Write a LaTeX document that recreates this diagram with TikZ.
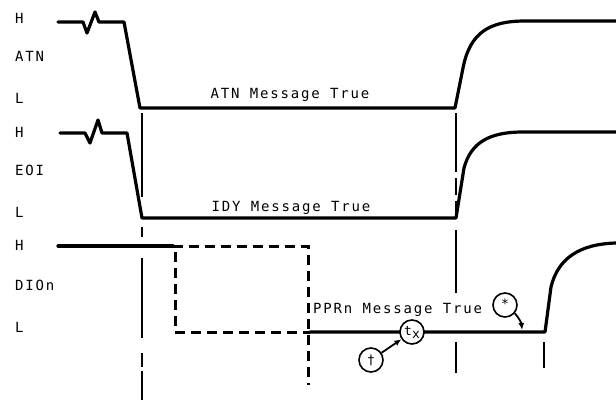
\documentclass[tikz,border=0pt]{standalone}
\usepackage{fontspec}
\newfontfamily\sigfont[LetterSpace=13]{DejaVu Sans Mono}
\usetikzlibrary{arrows.meta}
\tikzset{
  siglabel/.style={anchor=base west, inner sep=0pt, font=\sigfont\fontsize{14}{14}\selectfont},
  msglabel/.style={anchor=base, inner sep=0pt, font=\sigfont\fontsize{14}{14}\selectfont},
  wave/.style={line width=3.2pt, line join=round, line cap=round},
  dashwave/.style={line width=3pt, dash pattern=on 10pt off 6pt},
  marker/.style={line width=1.8pt},
  tagnode/.style={circle, draw, line width=1.6pt, fill=white, minimum size=24pt,
                  inner sep=0pt, font=\sigfont\fontsize{13}{13}\selectfont},
  arrowtag/.style={-{Latex[length=7pt, width=6pt]}, line width=1.8pt}
}

\begin{document}
\begin{tikzpicture}[x=1pt, y=-1pt]
  \useasboundingbox (0,0) rectangle (616,402);

  % signal names and levels
  \node[siglabel] (atnh) at (15,23)  {H};
  \node[siglabel] (atn)  at (15,61)  {ATN};
  \node[siglabel] (atnl) at (15,103) {L};
  \node[siglabel] (eoih) at (15,137) {H};
  \node[siglabel] (eoi)  at (15,175) {EOI};
  \node[siglabel] (eoil) at (15,217) {L};
  \node[siglabel] (dioh) at (15,250) {H};
  \node[siglabel] (dio)  at (15,290) {DIOn};
  \node[siglabel] (diol) at (15,332) {L};

  % ATN
  \draw[wave] (58,22) -- (83,22) -- (87,33) -- (95,12) -- (99,22) -- (124,22) -- (140,108)
    -- (455,108) -- (463,68) .. controls (470,32) and (490,21) .. (525,21) -- (616,21);
  \node[msglabel] (atnmsg) at (290,98) {ATN Message True};

  % EOI
  \draw[wave] (60,133) -- (85,133) -- (90,143) -- (98,120) -- (102,133) -- (127,133) -- (142,218)
    -- (456,218) -- (464,168) .. controls (471,142) and (490,132) .. (523,132) -- (616,132);
  \node[msglabel] (idymsg) at (291,211) {IDY Message True};

  % DIOn
  \draw[wave] (58,246) -- (173,246);
  \draw[dashwave] (173,246) -- (308,246) -- (308,385);
  \draw[dashwave] (175,252) -- (175,332) -- (310,332);
  \draw[wave] (310,332) -- (545,332) -- (551,287) .. controls (558,258) and (580,244) .. (616,243);
  \node[siglabel] (pprmsg) at (313,313) {PPRn Message True};

  % time markers
  \foreach \ya/\yb in {113/197, 227/237, 258/338, 353/367, 371/400}
    \draw[marker] (142,\ya) -- (142,\yb);
  \foreach \ya/\yb in {113/172, 178/195, 201/214, 230/293, 342/373}
    \draw[marker] (456,\ya) -- (456,\yb);
  \draw[marker] (544,342) -- (544,368);

  % notes
  \node[tagnode] (tx)   at (412,332) {t\raisebox{-3pt}{x}};
  \node[tagnode] (dag)  at (371,360) {†};
  \node[tagnode] (star) at (505,305) {\raisebox{3pt}{*}};
  \coordinate (startip) at (522,330);

  \draw[arrowtag] (dag) -- (tx);
  \draw[arrowtag] (star.-40) to[out=-50, in=95] (startip);
\end{tikzpicture}
\end{document}
